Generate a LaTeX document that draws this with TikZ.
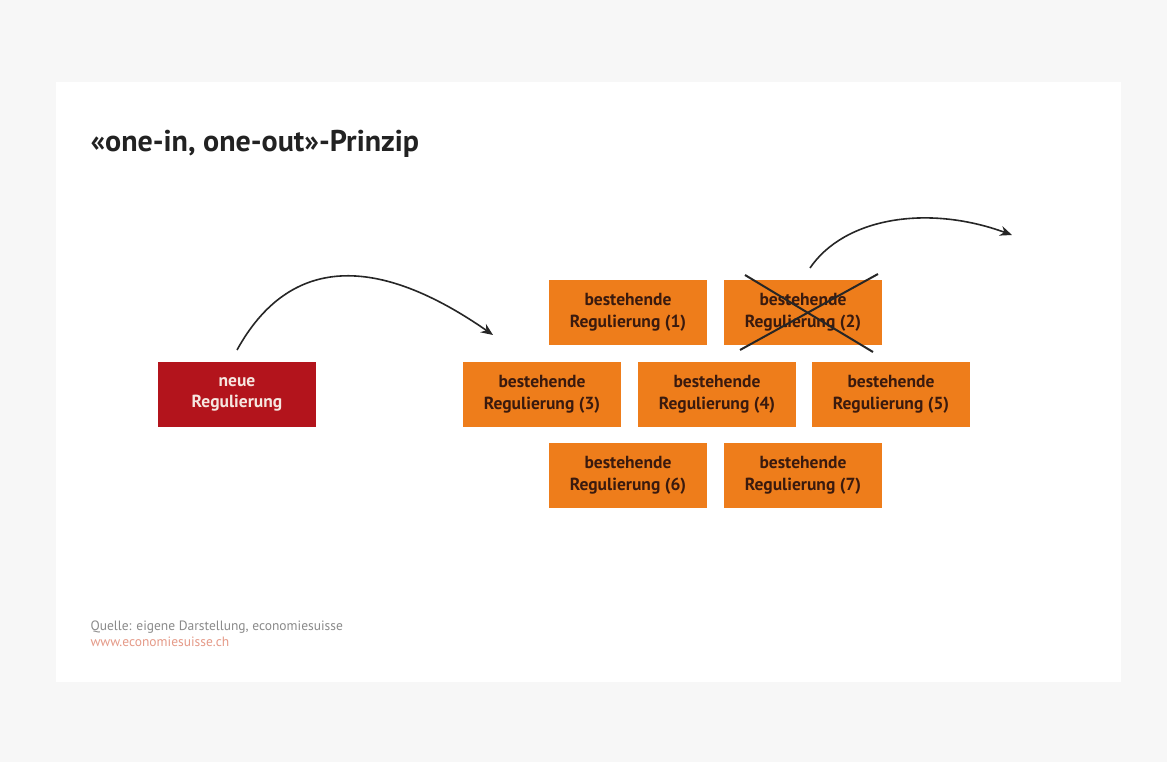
\documentclass[tikz,border=0pt]{standalone}
\usepackage{fontspec}
\setmainfont{PT Sans}
\usetikzlibrary{arrows.meta}
\definecolor{bgout}{HTML}{F7F7F7}
\definecolor{orbox}{HTML}{EE7D1B}
\definecolor{redbox}{HTML}{B3141C}
\definecolor{ortext}{HTML}{3A1A0E}
\definecolor{redtext}{HTML}{F6E6E0}
\definecolor{titlec}{HTML}{222222}
\definecolor{srcgrey}{HTML}{8A8A8A}
\definecolor{srcred}{HTML}{E59A88}
\tikzset{
  regbox/.style={rectangle, fill=orbox, minimum width=158pt, minimum height=65pt, inner sep=0pt,
    align=center, font=\fontsize{17.5pt}{21.5pt}\selectfont\bfseries, text=ortext},
  newbox/.style={regbox, fill=redbox, text=redtext},
  jump/.style={draw=black!85, line width=1.6pt, -{Stealth[length=12pt,width=10pt]}},
  cross/.style={draw=black!85, line width=2pt}
}
\begin{document}
\begin{tikzpicture}[x=1pt,y=-1pt]
\useasboundingbox (0,0) rectangle (1167,762);
\fill[bgout] (0,0) rectangle (1167,762);
\fill[white] (56,82) rectangle (1121,682);
\node[anchor=base west, text=titlec, font=\fontsize{30pt}{34pt}\selectfont\bfseries] (title) at (87,152) {«one-in, one-out»-Prinzip};
\node[newbox] (neu) at (237,394.5) {neue\\Regulierung};
\node[regbox] (r1) at (628,312.5) {bestehende\\Regulierung (1)};
\node[regbox] (r2) at (803,312.5) {bestehende\\Regulierung (2)};
\node[regbox] (r3) at (542,394.5) {bestehende\\Regulierung (3)};
\node[regbox] (r4) at (717,394.5) {bestehende\\Regulierung (4)};
\node[regbox] (r5) at (891,394.5) {bestehende\\Regulierung (5)};
\node[regbox] (r6) at (628,475.5) {bestehende\\Regulierung (6)};
\node[regbox] (r7) at (803,475.5) {bestehende\\Regulierung (7)};
\coordinate (a1s) at (237,350);
\coordinate (a1e) at (493,335);
\coordinate (a2s) at (810,268);
\coordinate (a2e) at (1012,235);
\draw[jump] (a1s) .. controls (290,254) and (378,255) .. (a1e);
\draw[jump] (a2s) .. controls (844,218) and (927,204) .. (a2e);
\coordinate (c1a) at (745,275);
\coordinate (c1b) at (873,352);
\coordinate (c2a) at (878,274);
\coordinate (c2b) at (740,350);
\draw[cross] (c1a) -- (c1b);
\draw[cross] (c2a) -- (c2b);
\node[anchor=base west, text=srcgrey, font=\fontsize{13.5pt}{15pt}\selectfont] (src) at (87,630) {Quelle: eigene Darstellung, economiesuisse};
\node[anchor=base west, text=srcred, font=\fontsize{13.5pt}{15pt}\selectfont] (url) at (87,646) {www.economiesuisse.ch};
\end{tikzpicture}
\end{document}
